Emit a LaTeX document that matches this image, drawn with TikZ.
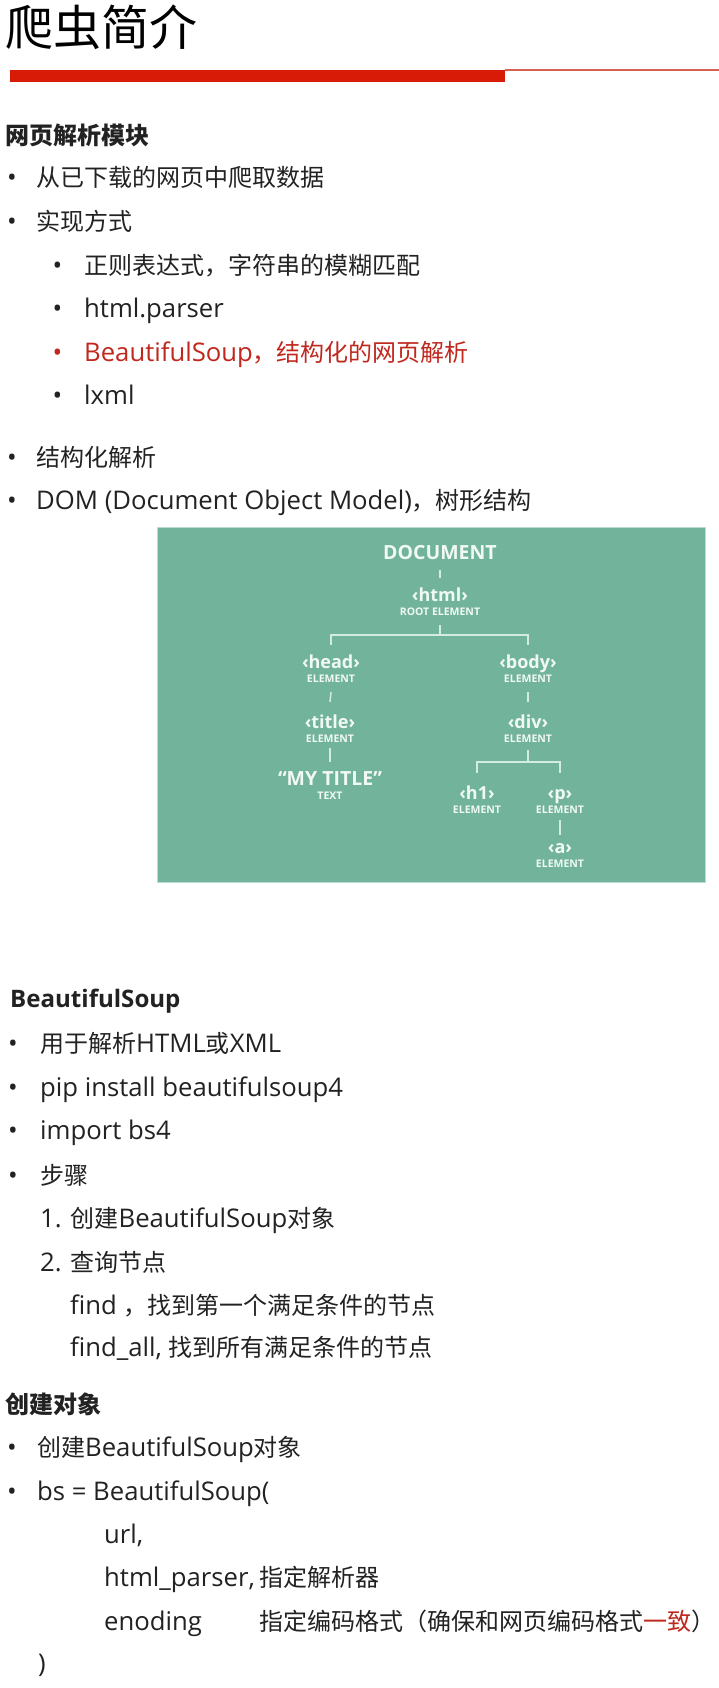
\documentclass[tikz,border=0pt]{standalone}
\usepackage{fontspec}
\setmainfont{Open Sans}[Scale=1.07]
\newfontfamily\treefont{Open Sans}
\newfontfamily\cjkfont{Noto Sans CJK SC}
\newcommand\zh[1]{{\cjkfont #1}}
\definecolor{txtcol}{HTML}{222222}
\definecolor{redtxt}{HTML}{C0281E}
\definecolor{barred}{HTML}{D81B06}
\definecolor{thinred}{HTML}{D8604E}
\definecolor{boxgreen}{HTML}{72B39C}
\definecolor{boxedge}{HTML}{B9DCCF}
\definecolor{treetxt}{HTML}{F1F9F5}
\definecolor{treeline}{HTML}{D3ECE2}
\tikzset{
  txt/.style={anchor=base west, inner sep=0pt, text=txtcol, font=\fontsize{24}{28}\selectfont},
  hdr/.style={txt, font=\fontsize{24}{28}\selectfont\bfseries},
  bul/.style={txt},
  redt/.style={txt, text=redtxt},
  tag/.style={anchor=base, inner sep=0pt, text=treetxt, text height=14pt, text depth=4pt, font=\treefont\fontsize{18}{20}\selectfont\bfseries},
  doctag/.style={anchor=base, inner sep=0pt, text=treetxt, text height=14pt, text depth=0pt, font=\treefont\fontsize{19.5}{22}\selectfont\bfseries},
  lab/.style={anchor=base, inner sep=0pt, text=treetxt, text height=8pt, text depth=0pt, font=\treefont\fontsize{10.5}{12}\selectfont\bfseries},
  tline/.style={draw=treeline, line width=1.5pt}
}
\begin{document}
\begin{tikzpicture}[x=1pt,y=-1pt]
\useasboundingbox (0,0) rectangle (719,1688);
\fill[white] (0,0) rectangle (719,1688);

% title and bar
\node[txt, font=\fontsize{48}{52}\selectfont, text=black] (title) at (5,46) {\zh{爬虫简介}};
\fill[barred] (10,70) rectangle (505,82);
\fill[thinred] (505,69.5) rectangle (719,71.3);

% section 1
\node[hdr] (h1sec) at (5,145) {\zh{网页解析模块}};
\node[bul] (b1) at (7,187) {•};
\node[txt] (t1) at (36,187) {\zh{从已下载的网页中爬取数据}};
\node[bul] (b2) at (7,231) {•};
\node[txt] (t2) at (36,231) {\zh{实现方式}};
\node[bul] (b21) at (52.5,274) {•};
\node[txt] (t21) at (84,274) {\zh{正则表达式，字符串的模糊匹配}};
\node[bul] (b22) at (52.5,317) {•};
\node[txt] (t22) at (84,317) {html.parser};
\node[bul, text=redtxt] (b23) at (52.5,361) {•};
\node[redt] (t23) at (84,361) {BeautifulSoup\zh{，结构化的网页解析}};
\node[bul] (b24) at (52.5,404) {•};
\node[txt] (t24) at (84,404) {lxml};
\node[bul] (b3) at (7,466) {•};
\node[txt] (t3) at (36,466) {\zh{结构化解析}};
\node[bul] (b4) at (7,509) {•};
\node[txt] (t4) at (36,509) {DOM (Document Object Model)\zh{，树形结构}};

% DOM tree picture
\fill[boxgreen, draw=boxedge, line width=0.8pt] (157,527) rectangle (705,882);
\node[doctag] (doc) at (440,559) {DOCUMENT};
\node[tag] (html) at (440,601) {‹html›};
\node[lab] (htmlL) at (440,615) {ROOT ELEMENT};
\node[tag] (head) at (331,668) {‹head›};
\node[lab] (headL) at (331,682) {ELEMENT};
\node[tag] (body) at (528,668) {‹body›};
\node[lab] (bodyL) at (528,682) {ELEMENT};
\node[tag] (ttl) at (330,728) {‹title›};
\node[lab] (ttlL) at (330,742) {ELEMENT};
\node[tag] (div) at (528,728) {‹div›};
\node[lab] (divL) at (528,742) {ELEMENT};
\node[tag, font=\treefont\fontsize{19.5}{22}\selectfont\bfseries] (mytitle) at (330,785) {“MY TITLE”};
\node[lab] (mytitleL) at (330,799) {TEXT};
\node[tag] (hone) at (477,799) {‹h1›};
\node[lab] (honeL) at (477,813) {ELEMENT};
\node[tag] (p) at (560,799) {‹p›};
\node[lab] (pL) at (560,813) {ELEMENT};
\node[tag] (a) at (560,853) {‹a›};
\node[lab] (aL) at (560,867) {ELEMENT};

\draw[tline] ([yshift=-11pt]doc.south) -- ([yshift=9pt]html.north);
\draw[tline] ([yshift=-10pt]htmlL.south) -- ([yshift=-20pt]htmlL.south) -| ([yshift=9pt]head.north);
\draw[tline] ([yshift=-20pt]htmlL.south) -| ([yshift=9pt]body.north);
\draw[tline] ([yshift=-10pt]headL.south) -- ([yshift=12pt]ttl.north);
\draw[tline] ([yshift=-10pt]bodyL.south) -- ([yshift=12pt]div.north);
\draw[tline] ([yshift=-6pt]ttlL.south) -- ([yshift=9pt]mytitle.north);
\draw[tline] ([yshift=-8pt]divL.south) -- ([yshift=-20pt]divL.south) -| ([yshift=12pt]hone.north);
\draw[tline] ([yshift=-20pt]divL.south) -| ([yshift=12pt]p.north);
\draw[tline] ([yshift=-7pt]pL.south) -- ([yshift=4pt]a.north);

% section 2
\node[hdr, font=\fontsize{22.5}{26}\selectfont\bfseries] (h2sec) at (10,1007) {BeautifulSoup};
\node[bul] (c1) at (8,1052) {•};
\node[txt] (u1) at (40,1052) {\zh{用于解析}HTML\zh{或}XML};
\node[bul] (c2) at (8,1096) {•};
\node[txt] (u2) at (40,1096) {pip install beautifulsoup4};
\node[bul] (c3) at (8,1139) {•};
\node[txt] (u3) at (40,1139) {import bs4};
\node[bul] (c4) at (8,1184) {•};
\node[txt] (u4) at (40,1184) {\zh{步骤}};
\node[txt] (u41) at (40,1227) {1. \zh{创建}BeautifulSoup\zh{对象}};
\node[txt] (u42) at (40,1271) {2. \zh{查询节点}};
\node[txt] (u43) at (70,1314) {find \zh{，找到第一个满足条件的节点}};
\node[txt] (u44) at (70,1356) {find\_all, \zh{找到所有满足条件的节点}};

% section 3
\node[hdr] (h3sec) at (5,1413) {\zh{创建对象}};
\node[bul] (d1) at (7,1456) {•};
\node[txt] (v1) at (37,1456) {\zh{创建}BeautifulSoup\zh{对象}};
\node[bul] (d2) at (7,1500) {•};
\node[txt] (v2) at (37,1500) {bs = BeautifulSoup(};
\node[txt] (v21) at (104,1543) {url,};
\node[txt] (v22) at (104,1586) {html\_parser,};
\node[txt] (v22c) at (259,1586) {\zh{指定解析器}};
\node[txt] (v23) at (104,1630) {enoding};
\node[txt] (v23c) at (259,1630) {\zh{指定编码格式（确保和网页编码格式{\color{redtxt}一致}）}};
\node[txt] (v3) at (38,1672) {)};
\end{tikzpicture}
\end{document}
